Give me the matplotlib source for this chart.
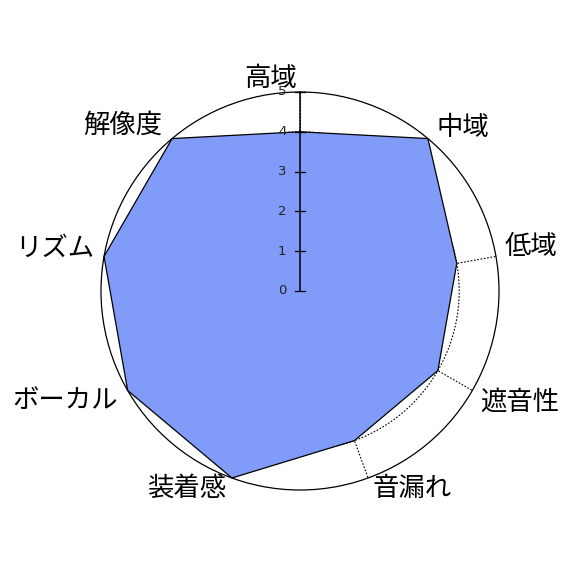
import matplotlib
matplotlib.use("Agg")
import matplotlib.pyplot as plt
from matplotlib.patches import Circle
import numpy as np

plt.rcParams["font.family"] = ["Noto Sans CJK JP", "DejaVu Sans"]

# ── data ──────────────────────────────────────────────────────────────────────
labels = ["高域", "中域", "低域", "遮音性", "音漏れ", "装着感", "ボーカル", "リズム", "解像度"]
values = [4, 5, 4, 4, 4, 5, 5, 5, 5]
ticks = [0, 1, 2, 3, 4, 5]
RMAX = 5

# label nudges (data units) relative to the axis tip at radius 6
label_nudge = [(-0.73, -0.65), (0.24, -0.48), (-0.11, 0.07), (0.33, 0.21),
               (0.76, 0.67), (-0.79, 0.67), (-0.70, 0.26), (-0.25, 0.02),
               (-0.59, -0.43)]

FILL = "#809bf8"

fig = plt.figure(figsize=(5.75, 5.75), dpi=100)
ax = fig.add_axes([0, 0, 1, 1])
px = RMAX / 199.0
ax.set_xlim(-300 * px, 275 * px)
ax.set_ylim(-284 * px, 291 * px)
ax.set_aspect("equal")
ax.axis("off")

n = len(labels)
ang = np.deg2rad(90 - 360.0 / n * np.arange(n))

# dotted grid: inner circles and spokes
for r in ticks[1:-1]:
    ax.add_patch(Circle((0, 0), r, fill=False, edgecolor="black", lw=0.8,
                        ls=(0, (1.5, 1.5)), zorder=1))
for a in ang:
    ax.plot([0, RMAX * np.cos(a)], [0, RMAX * np.sin(a)], color="black",
            lw=0.8, ls=(0, (1.5, 1.5)), zorder=1)

# filled polygon
vx = np.array(values) * np.cos(ang)
vy = np.array(values) * np.sin(ang)
ax.fill(vx, vy, facecolor=FILL, edgecolor="black", lw=0.9, zorder=2)

# outer circle
ax.add_patch(Circle((0, 0), RMAX, fill=False, edgecolor="black", lw=0.9,
                    zorder=3))

# radial scale on the vertical axis
ax.plot([0, 0], [0, RMAX], color="black", lw=1.1, zorder=4)
for v in ticks:
    ax.plot([-0.12, 0.13], [v, v], color="black", lw=0.9, zorder=4)
    ax.text(-0.45, v, str(v), ha="center", va="center", fontsize=9.5,
            color="#222222", family="DejaVu Sans", zorder=4)

# axis labels
for lab, a, (dx, dy) in zip(labels, ang, label_nudge):
    ax.text(6.0 * np.cos(a) + dx, 6.0 * np.sin(a) + dy, lab, ha="center",
            va="center", fontsize=19, color="black", zorder=5)

fig.savefig("out.png", dpi=100)
